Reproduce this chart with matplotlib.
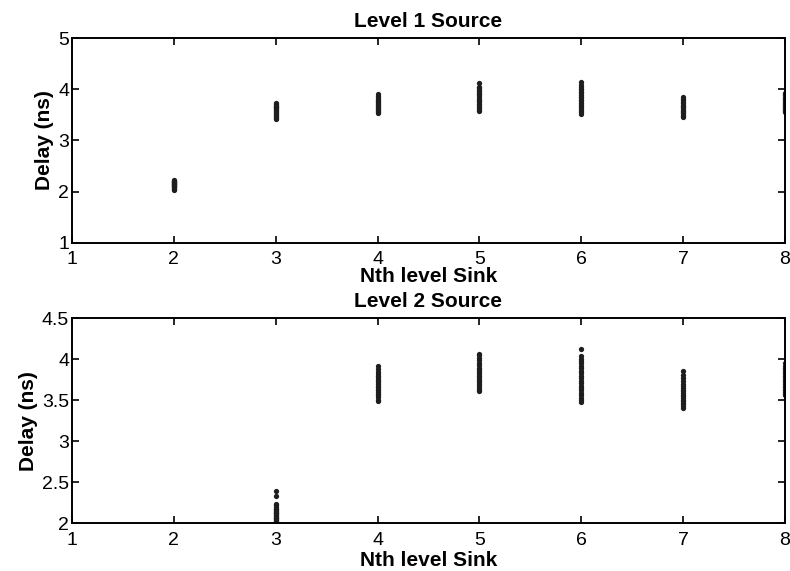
import matplotlib.pyplot as plt

plt.rcParams['font.family'] = ['Liberation Sans', 'DejaVu Sans']

# delay samples (ns) for each Nth level sink
top_data = {
    2: [2.03, 2.05, 2.06, 2.08, 2.09, 2.10, 2.11, 2.12, 2.13, 2.14, 2.15,
        2.16, 2.17, 2.18, 2.19, 2.20, 2.21, 2.23],
    3: [3.42, 3.44, 3.46, 3.48, 3.50, 3.52, 3.54, 3.56, 3.58, 3.60, 3.62,
        3.63, 3.65, 3.66, 3.68, 3.70, 3.72, 3.74],
    4: [3.53, 3.55, 3.58, 3.60, 3.62, 3.64, 3.66, 3.68, 3.70, 3.72, 3.74,
        3.76, 3.78, 3.80, 3.82, 3.85, 3.87, 3.90],
    5: [3.57, 3.60, 3.63, 3.66, 3.69, 3.72, 3.75, 3.78, 3.80, 3.82, 3.85,
        3.88, 3.90, 3.93, 3.96, 3.99, 4.02, 4.05, 4.12],
    6: [3.52, 3.55, 3.58, 3.62, 3.65, 3.68, 3.71, 3.74, 3.77, 3.80, 3.83,
        3.86, 3.89, 3.92, 3.95, 3.98, 4.01, 4.05, 4.09, 4.14],
    7: [3.45, 3.48, 3.50, 3.53, 3.55, 3.58, 3.60, 3.63, 3.65, 3.68, 3.70,
        3.73, 3.76, 3.79, 3.82, 3.86],
    8: [3.56, 3.58, 3.60, 3.62, 3.64, 3.66, 3.68, 3.70, 3.72, 3.74, 3.76,
        3.78, 3.80, 3.82, 3.84, 3.86, 3.88, 3.90, 3.93],
}

bottom_data = {
    3: [2.01, 2.02, 2.03, 2.04, 2.05, 2.06, 2.07, 2.08, 2.09, 2.10, 2.11,
        2.12, 2.13, 2.14, 2.15, 2.16, 2.17, 2.18, 2.20, 2.22, 2.24, 2.33,
        2.39],
    4: [3.49, 3.51, 3.54, 3.56, 3.58, 3.60, 3.62, 3.64, 3.66, 3.68, 3.70,
        3.72, 3.74, 3.76, 3.78, 3.80, 3.82, 3.85, 3.88, 3.92],
    5: [3.61, 3.63, 3.65, 3.68, 3.70, 3.72, 3.74, 3.76, 3.78, 3.80, 3.82,
        3.84, 3.86, 3.88, 3.90, 3.93, 3.96, 3.99, 4.02, 4.05, 4.07],
    6: [3.48, 3.50, 3.53, 3.56, 3.59, 3.62, 3.65, 3.68, 3.71, 3.74, 3.77,
        3.80, 3.83, 3.86, 3.89, 3.92, 3.95, 3.98, 4.01, 4.04, 4.12],
    7: [3.41, 3.43, 3.45, 3.47, 3.49, 3.51, 3.53, 3.55, 3.57, 3.59, 3.61,
        3.63, 3.65, 3.67, 3.70, 3.73, 3.77, 3.81, 3.86],
    8: [3.56, 3.58, 3.60, 3.62, 3.64, 3.66, 3.68, 3.70, 3.72, 3.74, 3.76,
        3.78, 3.80, 3.82, 3.84, 3.86, 3.88, 3.90, 3.92, 3.95],
}

titles = ['Level 1 Source', 'Level 2 Source']
ylims = [(1, 5), (2, 4.5)]
yticks = [[1, 2, 3, 4, 5], [2, 2.5, 3, 3.5, 4, 4.5]]
ytick_labels = [['1', '2', '3', '4', '5'], ['2', '2.5', '3', '3.5', '4', '4.5']]
xticks = [1, 2, 3, 4, 5, 6, 7, 8]
xlabel_pads = [-1, 1.5]

fig = plt.figure(figsize=(7.9, 5.71), dpi=100)
ax1 = fig.add_axes([0.0911, 0.575, 0.9025, 0.358])
ax2 = fig.add_axes([0.0911, 0.0835, 0.9025, 0.359])

for ax, data, title, ylim, yt, ytl, lp in zip([ax1, ax2], [top_data, bottom_data],
                                              titles, ylims, yticks,
                                              ytick_labels, xlabel_pads):
    for k, vals in data.items():
        ax.plot([k] * len(vals), vals, 'o', ms=3.8, color='#1e1e1e',
                markeredgewidth=0)
    ax.set_xlim(1, 8)
    ax.set_ylim(*ylim)
    ax.set_xticks(xticks)
    ax.set_yticks(yt)
    ax.set_yticklabels(ytl)
    ax.tick_params(direction='in', top=True, right=True, length=5,
                   width=1.2, labelsize=14)
    ax.tick_params(axis='x', pad=6)
    ax.tick_params(axis='y', pad=2)
    for s in ax.spines.values():
        s.set_linewidth(1.4)
    ax.set_title(title, fontsize=15, fontweight='bold', pad=8)
    ax.set_xlabel('Nth level Sink', fontsize=15, fontweight='bold', labelpad=lp)
    ax.set_ylabel('Delay (ns)', fontsize=15, fontweight='bold', labelpad=3)

fig.savefig('out.png', dpi=100)
